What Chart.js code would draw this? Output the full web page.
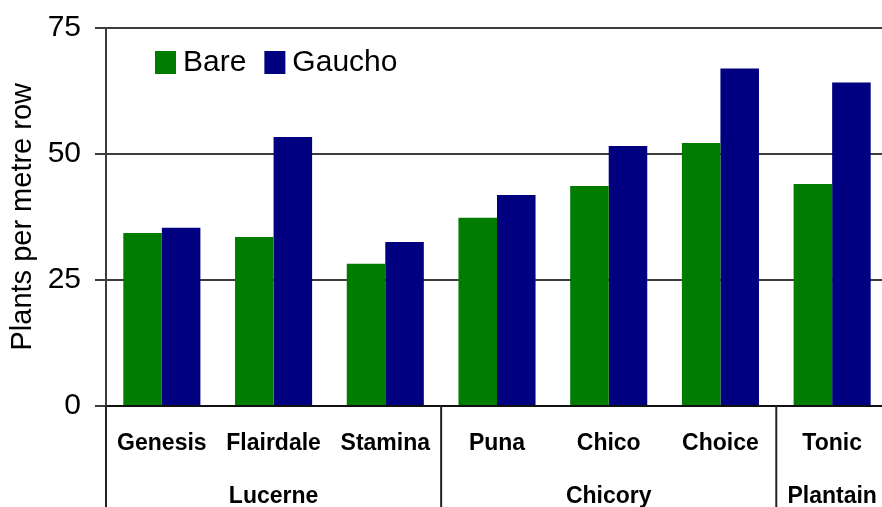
<!DOCTYPE html>
<html>
<head>
<meta charset="utf-8">
<script src="https://cdn.jsdelivr.net/npm/chart.js@4.4.1/dist/chart.umd.min.js"></script>
<style>
  html, body { margin: 0; padding: 0; background: #fff; overflow: hidden; }
  #wrap { width: 888px; height: 507px; }
</style>
</head>
<body>
<div id="wrap"><canvas id="c" width="888" height="507"></canvas></div>
<script>
const cultivars = ['Genesis', 'Flairdale', 'Stamina', 'Puna', 'Chico', 'Choice', 'Tonic']
const groups = ['Lucerne', 'Chicory', 'Plantain']
const groupSizes = [3, 3, 1]
const bare = [34.3, 33.5, 28.2, 37.3, 43.6, 52.1, 44.0]
const gaucho = [35.3, 53.3, 32.5, 41.8, 51.5, 66.9, 64.1]
const yTicks = [0, 25, 50, 75]

const FONT = '"Liberation Sans", Arial, sans-serif'
const LINE = '#3c3c3c'

// category + group labels, separators and the legend
const extras = {
    id: 'extras',
    afterDraw(chart) {
        const ctx = chart.ctx
        const x = chart.scales.x
        const area = chart.chartArea
        const step = x.getPixelForValue(1) - x.getPixelForValue(0)
        ctx.save()
        ctx.fillStyle = '#000'
        ctx.textAlign = 'center'
        ctx.textBaseline = 'middle'
        ctx.font = 'bold 23px ' + FONT
        cultivars.forEach((name, i) => {
            ctx.fillText(name, x.getPixelForValue(i), area.bottom + 38)
        })
        // group separators and group names
        ctx.strokeStyle = '#222'
        ctx.lineWidth = 2
        let start = 0
        groups.forEach((g, gi) => {
            const end = start + groupSizes[gi]
            const left = x.getPixelForValue(start) - step / 2
            const right = x.getPixelForValue(end - 1) + step / 2
            ctx.fillText(g, (left + right) / 2, area.bottom + 91)
            ctx.beginPath()
            ctx.moveTo(left, area.bottom)
            ctx.lineTo(left, chart.height)
            ctx.stroke()
            start = end
        })
        // legend
        ctx.font = '30px ' + FONT
        ctx.textAlign = 'left'
        let lx = 155
        chart.data.datasets.forEach(ds => {
            ctx.fillStyle = ds.backgroundColor
            ctx.fillRect(lx, 51, 21, 23)
            ctx.fillStyle = '#000'
            ctx.fillText(ds.label, lx + 28, 63)
            lx += 28 + ctx.measureText(ds.label).width + 18
        })
        ctx.restore()
    }
}

new Chart(document.getElementById('c'), {
    type: 'bar',
    data: {
        labels: cultivars,
        datasets: [
            { label: 'Bare', data: bare, backgroundColor: '#007c00' },
            { label: 'Gaucho', data: gaucho, backgroundColor: '#000080' }
        ]
    },
    options: {
        responsive: false,
        animation: false,
        layout: { padding: { top: 8, left: 0, right: 0, bottom: 0 } },
        plugins: { legend: { display: false }, tooltip: { enabled: false } },
        datasets: { bar: { barPercentage: 1, categoryPercentage: 0.69 } },
        scales: {
            x: {
                ticks: { display: false },
                grid: { display: false },
                border: { color: '#111', width: 2 },
                afterFit(s) { s.height = 101 }
            },
            y: {
                min: 0,
                max: 75,
                afterBuildTicks(s) { s.ticks = yTicks.map(v => ({ value: v })) },
                ticks: { font: { size: 30, family: FONT, lineHeight: 0.9 }, color: '#000', padding: 14 },
                grid: { color: LINE, lineWidth: 2, tickLength: 11 },
                border: { color: LINE, width: 2 },
                title: {
                    display: true,
                    text: 'Plants per metre row',
                    color: '#000',
                    font: { size: 29, family: FONT },
                    padding: { top: 6, bottom: 0 }
                },
                afterFit(s) { s.width = 106 }
            }
        }
    },
    plugins: [extras]
})
</script>
</body>
</html>
